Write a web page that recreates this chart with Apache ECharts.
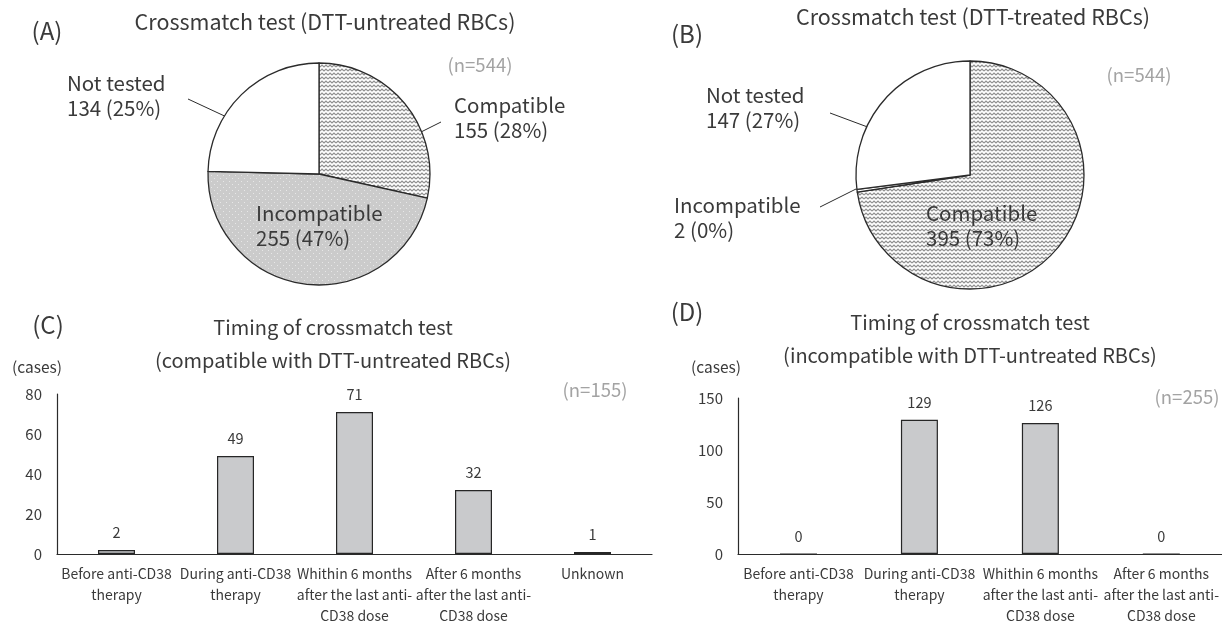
<!DOCTYPE html>
<html>
<head>
<meta charset="utf-8">
<script src="https://cdn.jsdelivr.net/npm/echarts@6/dist/echarts.min.js"></script>
<style>
html,body{margin:0;padding:0;background:#fff;}
#chart{width:1222px;height:626px;}
</style>
</head>
<body>
<div id="chart"></div>
<script>
// ---------- DATA ----------
const pieACategories = ['Compatible', 'Incompatible', 'Not tested'];
const pieAValues = [155, 255, 134];
const pieBCategories = ['Compatible', 'Incompatible', 'Not tested'];
const pieBValues = [395, 2, 147];

const barCCategories = ['Before anti-CD38\ntherapy', 'During anti-CD38\ntherapy', 'Whithin 6 months\nafter the last anti-\nCD38 dose', 'After 6 months\nafter the last anti-\nCD38 dose', 'Unknown'];
const barCValues = [2, 49, 71, 32, 1];
const barCTicks = [0, 20, 40, 60, 80];

const barDCategories = ['Before anti-CD38\ntherapy', 'During anti-CD38\ntherapy', 'Whithin 6 months\nafter the last anti-\nCD38 dose', 'After 6 months\nafter the last anti-\nCD38 dose'];
const barDValues = [0, 129, 126, 0];
const barDTicks = [0, 50, 100, 150];

// ---------- STYLE ----------
const FONT = '"Noto Sans CJK JP", "Noto Sans", sans-serif';
const TXT = '#3a3a3a';
const GREY_TXT = '#a3a3a3';
const sum = a => a.reduce((s, v) => s + v, 0);

function hatchPattern() {
  const c = document.createElement('canvas');
  c.width = 8; c.height = 4;
  const g = c.getContext('2d');
  g.fillStyle = '#ffffff'; g.fillRect(0, 0, 8, 4);
  g.strokeStyle = '#8f8f8f'; g.lineWidth = 1.2;
  g.beginPath();
  g.moveTo(0, 3); g.lineTo(2, 1); g.lineTo(4, 3); g.lineTo(6, 1); g.lineTo(8, 3);
  g.stroke();
  return { image: c, repeat: 'repeat' };
}
function dotPattern() {
  const c = document.createElement('canvas');
  c.width = 6; c.height = 6;
  const g = c.getContext('2d');
  g.fillStyle = '#cbcbcb'; g.fillRect(0, 0, 6, 6);
  g.fillStyle = 'rgba(255,255,255,0.55)';
  g.fillRect(1, 1, 1, 1); g.fillRect(4, 4, 1, 1);
  return { image: c, repeat: 'repeat' };
}

const fillA = [hatchPattern(), dotPattern(), '#ffffff'];
const fillB = [hatchPattern(), '#ffffff', '#ffffff'];

// label placement (layout only)
const labelPosA = [
  { x: 454, y: 117.5, line: [[441, 122], [395, 145]] },
  { x: 256, y: 225.5, line: null },
  { x: 67, y: 95.5, line: [[188, 99], [246, 126]] }
];
const labelPosB = [
  { x: 926, y: 225.5, line: null },
  { x: 674, y: 218, line: [[820, 207], [856, 189]] },
  { x: 706, y: 107.5, line: [[830, 113], [881, 132]] }
];

function pieSeries(cats, vals, fills, center, radius, pos) {
  const total = sum(vals);
  return {
    type: 'pie',
    center: center,
    radius: radius,
    startAngle: 90,
    clockwise: true,
    silent: true,
    animation: false,
    avoidLabelOverlap: false,
    itemStyle: { borderColor: '#2b2b2b', borderWidth: 1.3 },
    label: {
      show: true,
      position: 'outside',
      fontFamily: FONT,
      fontSize: 20.5,
      lineHeight: 25,
      color: TXT,
      formatter: p => p.name + '\n' + p.value + ' (' + Math.round(p.value / total * 100) + '%)'
    },
    labelLine: { show: true, length: 10, length2: 10, lineStyle: { color: '#2b2b2b', width: 1 } },
    labelLayout: function (p) {
      const L = pos[p.dataIndex];
      const o = { x: L.x, y: L.y, align: 'left', verticalAlign: 'middle' };
      if (L.line) o.labelLinePoints = [L.line[0], L.line[1], L.line[1]];
      return o;
    },
    data: vals.map((v, i) => ({
      name: cats[i],
      value: v,
      itemStyle: { color: fills[i] },
      labelLine: { show: !!pos[i].line }
    }))
  };
}

function barSeries(idx, vals) {
  return {
    type: 'bar',
    xAxisIndex: idx,
    yAxisIndex: idx,
    data: vals,
    barWidth: 37,
    silent: true,
    animation: false,
    itemStyle: { color: '#c9cacc', borderColor: '#262626', borderWidth: 1.2 },
    label: { show: true, position: 'top', distance: 10, fontFamily: FONT, fontSize: 14.5, color: TXT }
  };
}

function catAxis(idx, cats) {
  return {
    type: 'category',
    gridIndex: idx,
    data: cats,
    axisLine: { show: true, lineStyle: { color: '#2b2b2b', width: 1.2 } },
    axisTick: { show: false },
    axisLabel: { interval: 0, margin: 9, fontFamily: FONT, fontSize: 14, lineHeight: 21, color: TXT }
  };
}
function valAxis(idx, ticks, margin) {
  return {
    type: 'value',
    gridIndex: idx,
    min: ticks[0],
    max: ticks[ticks.length - 1],
    interval: ticks[1] - ticks[0],
    axisLine: { show: true, lineStyle: { color: '#2b2b2b', width: 1.2 } },
    axisTick: { show: false },
    splitLine: { show: false },
    axisLabel: { margin: margin, fontFamily: FONT, fontSize: 15, color: TXT }
  };
}

function txt(x, y, text, size, color, align) {
  return {
    type: 'text', x: x, y: y, silent: true,
    style: { text: text, font: size + 'px ' + FONT, fill: color, align: align || 'center', verticalAlign: 'middle' }
  };
}

const chart = echarts.init(document.getElementById('chart'), null, { renderer: 'canvas' });
chart.setOption({
  backgroundColor: '#ffffff',
  animation: false,
  grid: [
    { left: 57, top: 394, width: 595, height: 165 },
    { left: 738, top: 398, width: 484, height: 161 }
  ],
  xAxis: [catAxis(0, barCCategories), catAxis(1, barDCategories)],
  yAxis: [valAxis(0, barCTicks, 15), valAxis(1, barDTicks, 15)],
  series: [
    pieSeries(pieACategories, pieAValues, fillA, [319, 174], 111, labelPosA),
    pieSeries(pieBCategories, pieBValues, fillB, [970, 175], 114, labelPosB),
    barSeries(0, barCValues),
    barSeries(1, barDValues)
  ],
  graphic: [
    txt(47, 31, '(A)', 24, TXT),
    txt(325, 22, 'Crossmatch test (DTT-untreated RBCs)', 21.5, TXT),
    txt(480, 65, '(n=' + sum(pieAValues) + ')', 18.5, GREY_TXT),
    txt(687, 34, '(B)', 24, TXT),
    txt(973, 17, 'Crossmatch test (DTT-treated RBCs)', 21.5, TXT),
    txt(1139, 75, '(n=' + sum(pieBValues) + ')', 18.5, GREY_TXT),
    txt(48, 325, '(C)', 24, TXT),
    txt(333, 327, 'Timing of crossmatch test', 20, TXT),
    txt(333, 360, '(compatible with DTT-untreated RBCs)', 20, TXT),
    txt(37, 367, '(cases)', 15.5, TXT),
    txt(595, 390, '(n=' + sum(barCValues) + ')', 18.5, GREY_TXT),
    txt(687, 312, '(D)', 24, TXT),
    txt(970, 322, 'Timing of crossmatch test', 20, TXT),
    txt(970, 355, '(incompatible with DTT-untreated RBCs)', 20, TXT),
    txt(716, 367, '(cases)', 15.5, TXT),
    txt(1187, 397, '(n=' + sum(barDValues) + ')', 18.5, GREY_TXT)
  ]
});
</script>
</body>
</html>
